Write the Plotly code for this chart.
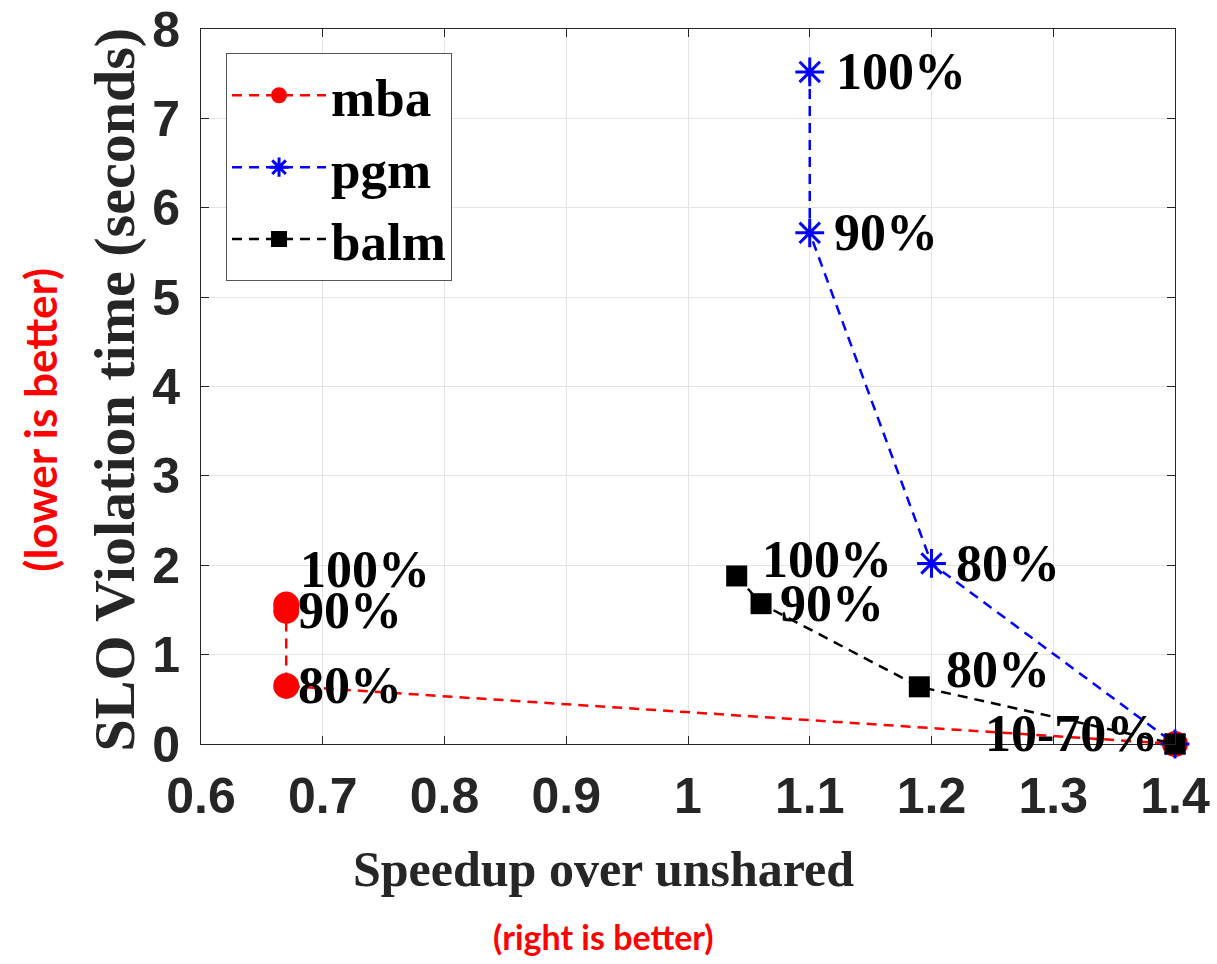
import plotly.graph_objects as go

# ---- data ----
mba_x = [0.67, 0.67, 0.67, 1.40]
mba_y = [1.56, 1.49, 0.65, 0.00]
pgm_x = [1.10, 1.10, 1.20, 1.40]
pgm_y = [7.52, 5.72, 2.02, 0.00]
balm_x = [1.04, 1.06, 1.19, 1.40]
balm_y = [1.88, 1.57, 0.64, 0.00]
point_labels = ["100%", "90%", "80%", "10-70%"]
x_ticks = [0.6, 0.7, 0.8, 0.9, 1.0, 1.1, 1.2, 1.3, 1.4]
x_tick_text = ["0.6", "0.7", "0.8", "0.9", "1", "1.1", "1.2", "1.3", "1.4"]
y_ticks = [0, 1, 2, 3, 4, 5, 6, 7, 8]

SERIF = "Liberation Serif, Times New Roman, serif"
SANS = "Liberation Sans, Arial, sans-serif"
CAP = "Lato, Open Sans, sans-serif"
AX = "#262626"

fig = go.Figure()
fig.add_trace(go.Scatter(x=mba_x, y=mba_y, name="mba", mode="lines+markers",
                         cliponaxis=False,
                         line=dict(color="#ff0000", width=2.5, dash="10px,7px"),
                         marker=dict(symbol="circle", size=26, color="#ff0000")))
fig.add_trace(go.Scatter(x=pgm_x, y=pgm_y, name="pgm", mode="lines+markers",
                         cliponaxis=False,
                         line=dict(color="#0000ff", width=2.5, dash="10px,7px"),
                         marker=dict(symbol="asterisk-open", size=24,
                                     line=dict(color="#0000ff", width=3))))
fig.add_trace(go.Scatter(x=balm_x, y=balm_y, name="balm", mode="lines+markers",
                         cliponaxis=False,
                         line=dict(color="#000000", width=2.5, dash="10px,7px"),
                         marker=dict(symbol="square", size=21, color="#000000")))

# point labels: (series x, series y, index, xanchor, xshift, yshift)
label_font = dict(family=SERIF, size=52, color="#000000", weight="bold")
specs = [
    (mba_x, mba_y, 0, "left", 12, 35),
    (mba_x, mba_y, 1, "left", 10, 0),
    (mba_x, mba_y, 2, "left", 10, 0),
    (mba_x, mba_y, 3, "right", -15, 11),
    (pgm_x, pgm_y, 0, "left", 24, 0),
    (pgm_x, pgm_y, 1, "left", 22, 0),
    (pgm_x, pgm_y, 2, "left", 22, 0),
    (balm_x, balm_y, 0, "left", 23, 16),
    (balm_x, balm_y, 1, "left", 17, 0),
    (balm_x, balm_y, 2, "left", 25, 17),
]
for sx, sy, i, xa, xs, ys in specs:
    fig.add_annotation(x=sx[i], y=sy[i], text=point_labels[i], showarrow=False,
                       xanchor=xa, yanchor="middle", xshift=xs, yshift=ys,
                       font=label_font)

# axis titles and captions
fig.add_annotation(xref="paper", yref="paper", x=0.4135, y=-0.175,
                   text="Speedup over unshared", showarrow=False,
                   xanchor="center", yanchor="middle",
                   font=dict(family=SERIF, size=50, color=AX, weight="bold"))
fig.add_annotation(xref="paper", yref="paper", x=0.4135, y=-0.269,
                   text="(right is better)", showarrow=False,
                   xanchor="center", yanchor="middle",
                   font=dict(family=CAP, size=34, color="#ff0000", weight="bold"))
fig.add_annotation(xref="paper", yref="paper", x=-0.089, y=0.495,
                   text="SLO Violation time (seconds)", showarrow=False,
                   textangle=-90, xanchor="center", yanchor="middle",
                   font=dict(family=SERIF, size=58, color=AX, weight="bold"))
fig.add_annotation(xref="paper", yref="paper", x=-0.165, y=0.454,
                   text="(lower is better)", showarrow=False,
                   textangle=-90, xanchor="center", yanchor="middle",
                   font=dict(family=CAP, size=44, color="#ff0000", weight="bold"))

axis_common = dict(showline=True, linecolor=AX, linewidth=1, mirror="ticks",
                   ticks="inside", ticklen=8, tickcolor=AX, automargin=False,
                   showgrid=True, gridcolor="#e3e3e3", gridwidth=1,
                   zeroline=False,
                   tickfont=dict(family=SANS, size=50, color=AX, weight="bold"))
fig.update_xaxes(range=[0.6, 1.4], tickvals=x_ticks, ticktext=x_tick_text,
                 ticklabelstandoff=8, **axis_common)
fig.update_yaxes(range=[0, 8], tickvals=y_ticks, ticklabelstandoff=10,
                 **axis_common)

fig.update_layout(
    width=1217, height=964,
    margin=dict(l=201, r=42, t=29, b=220, autoexpand=False),
    plot_bgcolor="white", paper_bgcolor="white",
    showlegend=True,
    legend=dict(x=0.0257, y=0.966, xanchor="left", yanchor="top",
                bgcolor="white", bordercolor="#555555", borderwidth=1,
                font=dict(family=SERIF, size=53, color="#000000", weight="bold"),
                tracegroupgap=0, itemwidth=94),
)

fig.write_html("out.html")
